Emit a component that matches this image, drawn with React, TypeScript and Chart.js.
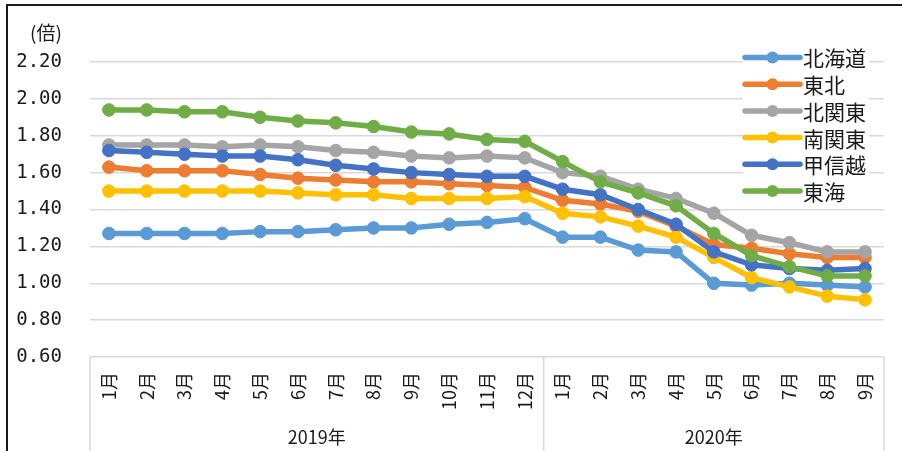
import React, { useEffect, useRef } from "react";
import { Chart, registerables } from "chart.js";

Chart.register(...registerables);

const monthLabels = [
  "1月", "2月", "3月", "4月", "5月", "6月", "7月", "8月", "9月", "10月", "11月", "12月",
  "1月", "2月", "3月", "4月", "5月", "6月", "7月", "8月", "9月",
];
const yearLabels = ["2019年", "2020年"];
const yearCounts = [12, 9];

const seriesNames = ["北海道", "東北", "北関東", "南関東", "甲信越", "東海"];
const seriesColors = ["#5B9BD5", "#ED7D31", "#A5A5A5", "#FFC000", "#4472C4", "#70AD47"];

const hokkaido = [1.27, 1.27, 1.27, 1.27, 1.28, 1.28, 1.29, 1.30, 1.30, 1.32, 1.33, 1.35, 1.25, 1.25, 1.18, 1.17, 1.00, 0.99, 1.00, 0.99, 0.98];
const tohoku = [1.63, 1.61, 1.61, 1.61, 1.59, 1.57, 1.56, 1.55, 1.55, 1.54, 1.53, 1.52, 1.45, 1.43, 1.39, 1.31, 1.21, 1.19, 1.16, 1.14, 1.14];
const kitaKanto = [1.75, 1.75, 1.75, 1.74, 1.75, 1.74, 1.72, 1.71, 1.69, 1.68, 1.69, 1.68, 1.60, 1.58, 1.51, 1.46, 1.38, 1.26, 1.22, 1.17, 1.17];
const minamiKanto = [1.50, 1.50, 1.50, 1.50, 1.50, 1.49, 1.48, 1.48, 1.46, 1.46, 1.46, 1.47, 1.38, 1.36, 1.31, 1.25, 1.14, 1.03, 0.98, 0.93, 0.91];
const koshinetsu = [1.72, 1.71, 1.70, 1.69, 1.69, 1.67, 1.64, 1.62, 1.60, 1.59, 1.58, 1.58, 1.51, 1.48, 1.40, 1.32, 1.17, 1.10, 1.08, 1.07, 1.08];
const tokai = [1.94, 1.94, 1.93, 1.93, 1.90, 1.88, 1.87, 1.85, 1.82, 1.81, 1.78, 1.77, 1.66, 1.55, 1.49, 1.42, 1.27, 1.15, 1.09, 1.04, 1.04];

const seriesValues = [hokkaido, tohoku, kitaKanto, minamiKanto, koshinetsu, tokai];

const yMin = 0.6;
const yMax = 2.2;
const yStep = 0.2;
const unitLabel = "(倍)";

const JP_FONT = "'Noto Sans CJK JP', 'Noto Sans', sans-serif";

const decorPlugin = {
  id: "decor",
  beforeDraw(chart: any) {
    const ctx = chart.ctx;
    ctx.save();
    ctx.fillStyle = "#ffffff";
    ctx.fillRect(0, 0, chart.width, chart.height);
    ctx.strokeStyle = "#1a1a1a";
    ctx.lineWidth = 2;
    ctx.strokeRect(7, 5, chart.width + 20, chart.height + 20);
    ctx.restore();
  },
  afterDraw(chart: any) {
    const ctx = chart.ctx;
    const area = chart.chartArea;
    const xs = chart.scales.x;
    ctx.save();
    // unit label
    ctx.fillStyle = "#1a1a1a";
    ctx.font = `19px ${JP_FONT}`;
    ctx.textAlign = "left";
    ctx.textBaseline = "middle";
    ctx.fillText(unitLabel, 30, 33);

    // category group separators
    ctx.strokeStyle = "#d9d9d9";
    ctx.lineWidth = 1.5;
    const bounds: number[] = [area.left];
    let idx = 0;
    for (let g = 0; g < yearCounts.length; g++) {
      idx += yearCounts[g];
      if (idx < monthLabels.length) {
        bounds.push((xs.getPixelForValue(idx - 1) + xs.getPixelForValue(idx)) / 2);
      }
    }
    bounds.push(area.right);
    for (const bx of bounds) {
      ctx.beginPath();
      ctx.moveTo(bx, area.bottom);
      ctx.lineTo(bx, chart.height);
      ctx.stroke();
    }
    ctx.fillStyle = "#1a1a1a";
    ctx.font = `18px ${JP_FONT}`;
    ctx.textAlign = "center";
    ctx.textBaseline = "middle";
    for (let g = 0; g < yearLabels.length; g++) {
      ctx.fillText(yearLabels[g], (bounds[g] + bounds[g + 1]) / 2, 437);
    }

    // legend
    const lx0 = 745;
    const lx1 = 800;
    const top = 57.5;
    const rowH = 26.7;
    ctx.font = `21px ${JP_FONT}`;
    ctx.textAlign = "left";
    ctx.textBaseline = "middle";
    for (let i = 0; i < seriesNames.length; i++) {
      const y = top + i * rowH;
      const tw = ctx.measureText(seriesNames[i]).width;
      ctx.fillStyle = "#ffffff";
      ctx.fillRect(lx0 - 2, y - rowH / 2, lx1 - lx0 + 8 + tw, rowH);
      ctx.strokeStyle = seriesColors[i];
      ctx.lineWidth = 5.5;
      ctx.lineCap = "round";
      ctx.beginPath();
      ctx.moveTo(lx0, y);
      ctx.lineTo(lx1, y);
      ctx.stroke();
      ctx.fillStyle = seriesColors[i];
      ctx.beginPath();
      ctx.arc((lx0 + lx1) / 2, y, 6, 0, Math.PI * 2);
      ctx.fill();
      ctx.fillStyle = "#1a1a1a";
      ctx.fillText(seriesNames[i], lx1 + 3, y + 1);
    }
    ctx.restore();
  },
};

export default function App() {
  const canvasRef = useRef<HTMLCanvasElement | null>(null);

  useEffect(() => {
    document.body.style.margin = "0";
    const canvas = canvasRef.current;
    if (!canvas) return;
    const chart = new Chart(canvas, {
      type: "line",
      data: {
        labels: monthLabels,
        datasets: seriesNames.map((name, i) => ({
          label: name,
          data: seriesValues[i],
          borderColor: seriesColors[i],
          backgroundColor: seriesColors[i],
          pointBackgroundColor: seriesColors[i],
          pointBorderColor: seriesColors[i],
          pointBorderWidth: 1,
          pointRadius: 6.3,
          borderWidth: 5.5,
          tension: 0,
          fill: false,
          order: -i,
        })),
      },
      options: {
        responsive: false,
        animation: false,
        layout: { padding: { top: 62, right: 15, left: 0, bottom: 0 } },
        plugins: {
          legend: { display: false },
          tooltip: { enabled: false },
        },
        scales: {
          x: {
            offset: true,
            grid: { display: false, drawTicks: false },
            border: { display: false },
            ticks: {
              autoSkip: false,
              minRotation: 90,
              maxRotation: 90,
              padding: 15,
              color: "#1a1a1a",
              font: { family: JP_FONT, size: 18 },
            },
            afterFit(scale: any) {
              scale.height = 94;
            },
          },
          y: {
            min: yMin,
            max: yMax,
            grid: { color: "#d9d9d9", lineWidth: 1.5, drawTicks: false },
            border: { display: false },
            ticks: {
              stepSize: yStep,
              padding: 28,
              color: "#1a1a1a",
              font: { family: "'DejaVu Sans Mono', monospace", size: 19 },
              callback: (v: any) => Number(v).toFixed(2),
            },
            afterFit(scale: any) {
              scale.width = 90;
            },
          },
        },
      },
      plugins: [decorPlugin],
    });
    return () => chart.destroy();
  }, []);

  return (
    <div style={{ width: 902, height: 451 }}>
      <canvas ref={canvasRef} width={902} height={451} style={{ display: "block" }} />
    </div>
  );
}
